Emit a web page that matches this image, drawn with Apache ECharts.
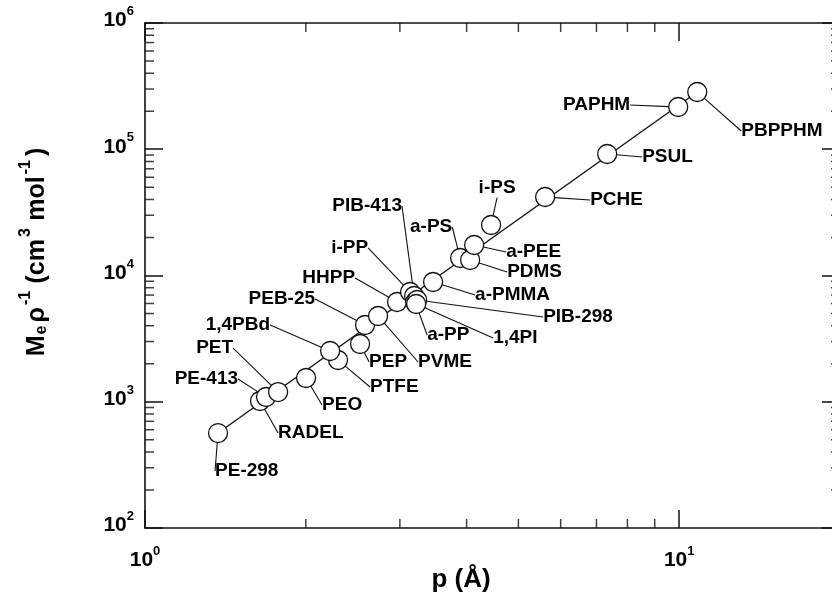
<!DOCTYPE html>
<html>
<head>
<meta charset="utf-8">
<script src="https://cdn.jsdelivr.net/npm/echarts@6/dist/echarts.min.js"></script>
<style>
html,body{margin:0;padding:0;background:#fff;overflow:hidden;}
#chart{width:832px;height:597px;}
</style>
</head>
<body>
<div id="chart"></div>
<script>
// ---- data ----
const polymers = ['PE-298','RADEL','PE-413','PET','PEO','PTFE','1,4PBd','PEP','PEB-25','PVME',
  'HHPP','i-PP','PIB-413','a-PP','PIB-298','1,4PI','a-PMMA','a-PS','PDMS','a-PEE',
  'i-PS','PCHE','PSUL','PAPHM','PBPPHM'];
const packingLength = [1.37,1.642,1.685,1.775,2.002,2.298,2.221,2.527,2.582,2.731,
  2.964,3.135,3.19,3.204,3.232,3.218,3.462,3.89,4.061,4.132,
  4.445,5.611,7.332,9.957,10.81];
const MeOverRho = [565,1014,1090,1194,1542,2141,2523,2867,4055,4777,
  6166,7403,6880,6166,6397,5946,8882,13760,13270,17440,
  25120,41860,91700,216100,284100];
// straight guide line (end points)
const fitP = [1.37, 10.81];
const fitM = [565, 284100];
// axis ticks
const xMajor = [1, 10];
const yMajor = [100, 1000, 10000, 100000, 1000000];
const minorMult = [2,3,4,5,6,7,8,9];
const xMin = 1, xMax = 20, yMin = 100, yMax = 1000000;

// ---- label placement (style only): [align, dx, dy] ----
const labelPlace = {
  'PE-298':['left',-3,38], 'RADEL':['left',18,32], 'PE-413':['right',-28,-18], 'PET':['right',-45,-44],
  'PEO':['left',16,27], 'PTFE':['left',32,27], '1,4PBd':['right',-60,-26], 'PEP':['left',9,18],
  'PEB-25':['right',-50,-26], 'PVME':['left',40,46], 'HHPP':['right',-42,-24], 'i-PP':['right',-42,-44],
  'PIB-413':['center',-47,-90], 'a-PP':['left',12,33], 'PIB-298':['left',126,17], '1,4PI':['left',77,34],
  'a-PMMA':['left',42,13], 'a-PS':['center',-29,-31], 'PDMS':['left',37,12], 'a-PEE':['left',32,7],
  'i-PS':['center',6,-37], 'PCHE':['left',45,3], 'PSUL':['left',35,3], 'PAPHM':['right',-48,-2],
  'PBPPHM':['left',44,39]
};

const FONT = '"Liberation Sans", Arial, Helvetica, sans-serif';
const pts = polymers.map((n,i)=>({name:n, value:[packingLength[i], MeOverRho[i]]}));
const fitData = fitP.map((p,i)=>[p, fitM[i]]);

const xMinorVals = [];
xMajor.forEach(d=>minorMult.forEach(m=>{const v=d*m; if(v>xMin && v<xMax) xMinorVals.push(v);}));
const yMinorVals = [];
yMajor.forEach(d=>minorMult.forEach(m=>{const v=d*m; if(v>yMin && v<yMax) yMinorVals.push(v);}));

function tickSeries(data, size, offset){
  return {type:'scatter', data:data, symbol:'rect', symbolSize:size, symbolOffset:offset,
    itemStyle:{color:'#111'}, silent:true, clip:false, z:1, animation:false};
}

function expLabel(v){
  const e = Math.log10(v);
  if (Math.abs(e-Math.round(e))>1e-6) return '';
  return '{b|10}{s|' + Math.round(e) + '}';
}
const tickRich = {
  b:{fontFamily:FONT, fontWeight:'bold', fontSize:21, color:'#000', lineHeight:26, verticalAlign:'bottom'},
  s:{fontFamily:FONT, fontWeight:'bold', fontSize:13, color:'#000', lineHeight:13, verticalAlign:'top'}
};

const axisLine = {show:true, lineStyle:{color:'#111', width:1.6}};

const option = {
  backgroundColor:'#fff',
  animation:false,
  grid:{left:145, top:23, width:695, height:505, containLabel:false, outerBoundsMode:'none'},
  xAxis:[
    {type:'log', logBase:10, min:xMin, max:xMax, position:'bottom',
     axisLine:axisLine, splitLine:{show:false},
     axisTick:{show:true, inside:true, length:18, lineStyle:{color:'#111', width:1.5}},
     axisLabel:{show:true, margin:17, formatter:expLabel, rich:tickRich, color:'#000'}},
    {type:'log', logBase:10, min:xMin, max:xMax, position:'top',
     axisLine:axisLine, splitLine:{show:false},
     axisTick:{show:true, inside:true, length:18, lineStyle:{color:'#111', width:1.5}},
     axisLabel:{show:false}}
  ],
  yAxis:[
    {type:'log', logBase:10, min:yMin, max:yMax, position:'left',
     axisLine:axisLine, splitLine:{show:false},
     axisTick:{show:true, inside:true, length:18, lineStyle:{color:'#111', width:1.5}},
     axisLabel:{show:true, margin:11, formatter:expLabel, rich:tickRich, color:'#000', padding:[0,0,10,0]}},
    {type:'log', logBase:10, min:yMin, max:yMax, position:'right',
     axisLine:axisLine, splitLine:{show:false},
     axisTick:{show:true, inside:true, length:18, lineStyle:{color:'#111', width:1.5}},
     axisLabel:{show:false}}
  ],
  graphic:[
    {type:'text', x:34, y:252, rotation:Math.PI/2, z:100,
     style:{
       text:'{b|M}{sub|e}{b|ρ}{sup|-1} {b|(cm}{sup|3} {b|mol}{sup|-1}{b|)}',
       align:'center', verticalAlign:'middle',
       rich:{
         b:{fontFamily:FONT, fontWeight:'bold', fontSize:25, lineHeight:32, verticalAlign:'bottom', fill:'#000'},
         sub:{fontFamily:FONT, fontWeight:'bold', fontSize:16, lineHeight:17, verticalAlign:'bottom', fill:'#000', padding:[0,3,0,1]},
         sup:{fontFamily:FONT, fontWeight:'bold', fontSize:16, lineHeight:17, verticalAlign:'top', fill:'#000', padding:[0,4,0,2]}
       }
     }},
    {type:'text', x:461, y:580, z:100,
     style:{text:'p (Å)', align:'center', verticalAlign:'middle',
       font:'bold 26px ' + FONT, fill:'#000'}}
  ],
  series:[
    {type:'line', name:'fit', data:fitData, showSymbol:false, symbol:'none',
     lineStyle:{color:'#111', width:1.4}, silent:true, z:2, animation:false},
    {type:'scatter', name:'polymers', data:pts, symbol:'circle', symbolSize:19,
     itemStyle:{color:'#fff', borderColor:'#111', borderWidth:1.3, opacity:1},
     z:3, silent:true, clip:false,
     label:{show:true, position:'inside', formatter:'{b}', color:'#000',
       fontFamily:FONT, fontWeight:'bold', fontSize:19},
     labelLine:{show:true, length2:0, lineStyle:{color:'#111', width:1.1}},
     labelLayout:function(params){
       const name = polymers[params.dataIndex];
       const p = labelPlace[name] || ['left',15,0];
       return {align:p[0], verticalAlign:'middle', dx:p[1], dy:p[2]};
     }},
    tickSeries(xMinorVals.map(v=>[v,yMin]), [1.5,9], [0,-4.5]),
    Object.assign(tickSeries(xMinorVals.map(v=>[v,yMax]), [1.5,9], [0,4.5]), {xAxisIndex:1, yAxisIndex:1}),
    tickSeries(yMinorVals.map(v=>[xMin,v]), [9,1.5], [4.5,0]),
    Object.assign(tickSeries(yMinorVals.map(v=>[xMax,v]), [9,1.5], [-4.5,0]), {xAxisIndex:1, yAxisIndex:1})
  ]
};

const chart = echarts.init(document.getElementById('chart'), null, {renderer:'canvas'});
chart.setOption(option);
</script>
</body>
</html>
